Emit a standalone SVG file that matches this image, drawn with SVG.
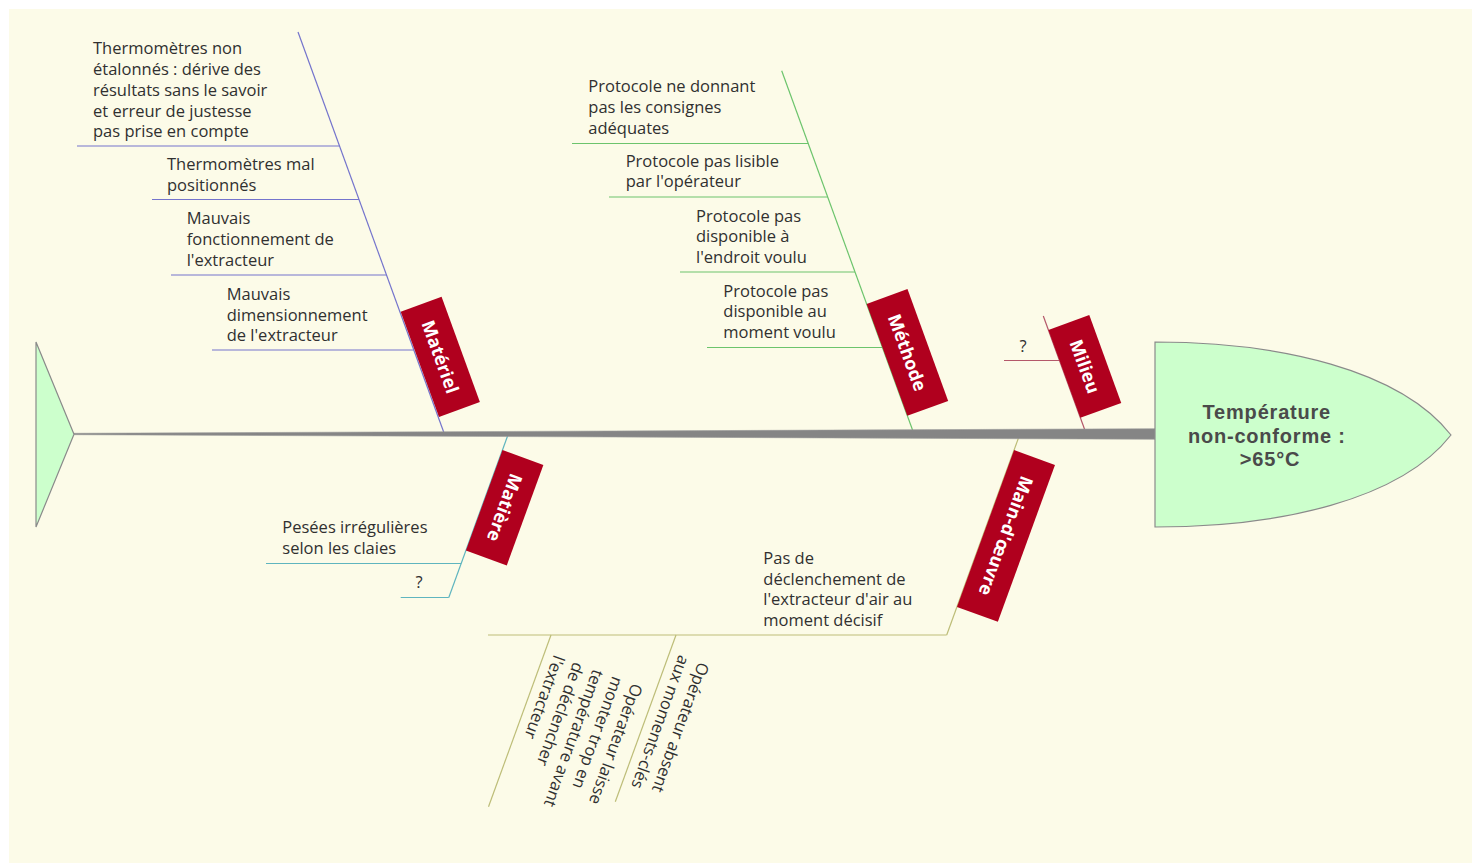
<svg xmlns="http://www.w3.org/2000/svg" width="1476" height="863" viewBox="0 0 1476 863">
<style>
.t{font-family:"Open Sans","Liberation Sans",sans-serif;font-size:16.5px;fill:#303030}
.lb{font-family:"Open Sans","Liberation Sans",sans-serif;font-size:18px;font-weight:bold;fill:#ffffff}
.hd{font-family:"Liberation Sans",Arial,sans-serif;font-size:20px;font-weight:bold;letter-spacing:0.8px;fill:#4a4a4a}
.box{fill:#B0001E}
.ln{fill:none;stroke-width:1.2}
.mat{stroke:#7474CC}
.met{stroke:#6CC46C}
.mil{stroke:#B4586A}
.mtr{stroke:#5FB5BF}
.mo{stroke:#BDBD78}
.shape{fill:#CCFFCC;stroke:#8a8a8a;stroke-width:1.2}
</style>
<rect width="1476" height="863" fill="#ffffff"/>
<rect x="9" y="9" width="1463" height="854" fill="#FCFBE8"/>

<g id="connectors">
  <g class="ln mat">
    <line x1="298" y1="32" x2="444.4" y2="434"/>
    <line x1="77" y1="146" x2="339.5" y2="146"/>
    <line x1="152" y1="199.5" x2="359" y2="199.5"/>
    <line x1="171" y1="275" x2="386.5" y2="275"/>
    <line x1="212" y1="350" x2="413.8" y2="350"/>
  </g>
  <g class="ln met">
    <line x1="781.7" y1="70.7" x2="914" y2="434"/>
    <line x1="572" y1="143.5" x2="808.2" y2="143.5"/>
    <line x1="609" y1="197" x2="827.7" y2="197"/>
    <line x1="680" y1="272" x2="855" y2="272"/>
    <line x1="707" y1="347.5" x2="882.5" y2="347.5"/>
  </g>
  <g class="ln mil">
    <line x1="1043.3" y1="316" x2="1086.3" y2="434"/>
    <line x1="1004" y1="360.5" x2="1059.5" y2="360.5"/>
  </g>
  <g class="ln mtr">
    <line x1="508.3" y1="434" x2="448.8" y2="597.5"/>
    <line x1="266" y1="563.5" x2="461.2" y2="563.5"/>
    <line x1="400.7" y1="597.5" x2="448.8" y2="597.5"/>
  </g>
  <g class="ln mo">
    <line x1="1019.9" y1="434" x2="946.7" y2="635"/>
    <line x1="488" y1="635" x2="946.7" y2="635"/>
    <line x1="551" y1="635" x2="488.5" y2="806.8"/>
    <line x1="676" y1="635" x2="615.3" y2="801.8"/>
  </g>
  <polygon id="spine" points="74,433.3 1155,428.7 1155,439.3 74,434.7" fill="#858585" stroke="#9a9a9a" stroke-width="0.6"/>
</g>

<g id="tail">
  <polygon class="shape" points="36,342 74,434.3 36,527"/>
</g>

<g id="head">
  <path class="shape" d="M1155,342 C1280,342 1400,370 1451,435 C1400,500 1280,527 1155,527 Z"/>
  <text class="hd" text-anchor="middle">
    <tspan x="1270" y="419">Température</tspan>
    <tspan x="1270" y="442.5">non-conforme :</tspan>
    <tspan x="1270" y="466">&gt;65°C</tspan>
  </text>
</g>

<g id="cat-materiel" transform="translate(400.7,311.7) rotate(-20)">
  <rect class="box" width="43.5" height="112"/>
  <text class="lb" transform="translate(15.3,56) rotate(90)" text-anchor="middle">Matériel</text>
</g>
<g id="cat-methode" transform="translate(866.6,304) rotate(-20)">
  <rect class="box" width="43.5" height="119"/>
  <text class="lb" transform="translate(15.3,59.5) rotate(90)" text-anchor="middle">Méthode</text>
</g>
<g id="cat-milieu" transform="translate(1048.4,330) rotate(-20)">
  <rect class="box" width="43.5" height="93.5"/>
  <text class="lb" transform="translate(15.3,46.75) rotate(90)" text-anchor="middle">Milieu</text>
</g>
<g id="cat-matiere" transform="translate(502.5,450) rotate(20)">
  <rect class="box" width="43.5" height="107"/>
  <text class="lb" transform="translate(15.3,53.5) rotate(90)" text-anchor="middle">Matière</text>
</g>
<g id="cat-maindoeuvre" transform="translate(1014.1,450) rotate(20)">
  <rect class="box" width="43.5" height="167"/>
  <text class="lb" transform="translate(15.3,83.5) rotate(90)" text-anchor="middle">Main-d'œuvre</text>
</g>

<g id="cause-thermo-etalonnes">
  <text class="t">
    <tspan x="93" y="54.3">Thermomètres non</tspan>
    <tspan x="93" y="75">étalonnés : dérive des</tspan>
    <tspan x="93" y="95.8">résultats sans le savoir</tspan>
    <tspan x="93" y="116.5">et erreur de justesse</tspan>
    <tspan x="93" y="137.3">pas prise en compte</tspan>
  </text>
</g>
<g id="cause-thermo-positionnes">
  <text class="t">
    <tspan x="167" y="170">Thermomètres mal</tspan>
    <tspan x="167" y="190.7">positionnés</tspan>
  </text>
</g>
<g id="cause-fonctionnement">
  <text class="t">
    <tspan x="186.7" y="224.3">Mauvais</tspan>
    <tspan x="186.7" y="245">fonctionnement de</tspan>
    <tspan x="186.7" y="265.7">l'extracteur</tspan>
  </text>
</g>
<g id="cause-dimensionnement">
  <text class="t">
    <tspan x="226.7" y="300">Mauvais</tspan>
    <tspan x="226.7" y="320.7">dimensionnement</tspan>
    <tspan x="226.7" y="341.3">de l'extracteur</tspan>
  </text>
</g>

<g id="cause-consignes">
  <text class="t">
    <tspan x="588.3" y="92.3">Protocole ne donnant</tspan>
    <tspan x="588.3" y="113">pas les consignes</tspan>
    <tspan x="588.3" y="133.8">adéquates</tspan>
  </text>
</g>
<g id="cause-lisible">
  <text class="t">
    <tspan x="625.7" y="166.7">Protocole pas lisible</tspan>
    <tspan x="625.7" y="187.4">par l'opérateur</tspan>
  </text>
</g>
<g id="cause-endroit">
  <text class="t">
    <tspan x="696" y="221.7">Protocole pas</tspan>
    <tspan x="696" y="242.4">disponible à</tspan>
    <tspan x="696" y="263.1">l'endroit voulu</tspan>
  </text>
</g>
<g id="cause-moment">
  <text class="t">
    <tspan x="723.3" y="296.7">Protocole pas</tspan>
    <tspan x="723.3" y="317.4">disponible au</tspan>
    <tspan x="723.3" y="338.1">moment voulu</tspan>
  </text>
</g>

<g id="cause-milieu-q">
  <text class="t" x="1019.5" y="351.7">?</text>
</g>

<g id="cause-pesees">
  <text class="t">
    <tspan x="282.3" y="533.3">Pesées irrégulières</tspan>
    <tspan x="282.3" y="554">selon les claies</tspan>
  </text>
</g>
<g id="cause-matiere-q">
  <text class="t" x="415.5" y="588.3">?</text>
</g>

<g id="cause-declenchement">
  <text class="t">
    <tspan x="763.3" y="564">Pas de</tspan>
    <tspan x="763.3" y="584.7">déclenchement de</tspan>
    <tspan x="763.3" y="605.4">l'extracteur d'air au</tspan>
    <tspan x="763.3" y="626">moment décisif</tspan>
  </text>
</g>
<g id="cause-laisse-monter" transform="translate(551,635) rotate(110)">
  <text class="t">
    <tspan x="17" y="-92.5">Opérateur laisse</tspan>
    <tspan x="17" y="-71.75">monter trop en</tspan>
    <tspan x="17" y="-51">température avant</tspan>
    <tspan x="17" y="-30.25">de déclencher</tspan>
    <tspan x="17" y="-9.5">l'extracteur</tspan>
  </text>
</g>
<g id="cause-absent" transform="translate(676,635) rotate(110)">
  <text class="t">
    <tspan x="17" y="-30.25">Opérateur absent</tspan>
    <tspan x="17" y="-9.5">aux moments-clés</tspan>
  </text>
</g>
</svg>
